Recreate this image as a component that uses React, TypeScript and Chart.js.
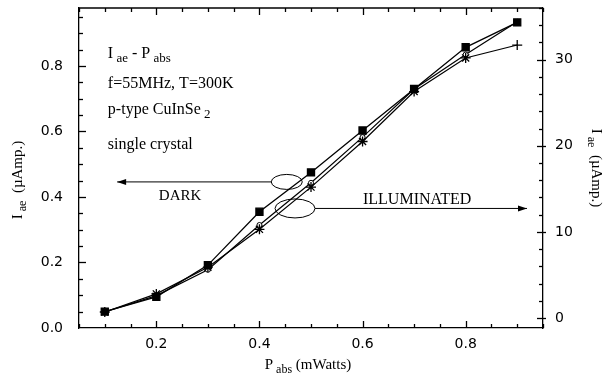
import React, { useEffect, useRef } from "react";
import { Chart, registerables } from "chart.js";

Chart.register(...registerables);

// ---- data ----
const pabs = [0.1, 0.2, 0.3, 0.4, 0.5, 0.6, 0.7, 0.8, 0.9];
const darkIae = [0.05, 0.095, 0.192, 0.355, 0.475, 0.603, 0.73, 0.857, 0.933]; // left axis (µAmp.)
const illumIae = [0.7, 2.8, 5.9, 10.3, 15.2, 20.5, 26.3, 30.2, 31.7]; // right axis (µAmp.)
const illumIae2 = [0.7, 2.6, 5.6, 10.8, 15.7, 21.0, 26.6, 30.6, 34.4]; // right axis (µAmp.)

const xTicks = [0.2, 0.4, 0.6, 0.8];
const leftTicks = [0.0, 0.2, 0.4, 0.6, 0.8];
const rightTicks = [0, 10, 20, 30];

const X_MIN = 0.05, X_MAX = 0.95;
const L_MIN = 0, L_MAX = 0.977;
const R_MIN = -1.16, R_MAX = 36.0;

const SERIF = "'Liberation Serif', 'DejaVu Serif', serif";
const SANS = "'DejaVu Sans', 'Liberation Sans', sans-serif";

function range(a: number, b: number, step: number) {
  const out: number[] = [];
  const n = Math.round((b - a) / step);
  for (let i = 0; i <= n; i++) out.push(Math.round((a + i * step) * 1000) / 1000);
  return out;
}

// draw text with subscript segments: parts = [[text, isSub], ...]
function subText(ctx: CanvasRenderingContext2D, parts: [string, boolean][], x: number, y: number, size: number, align: "left" | "center") {
  const sub = Math.round(size * 0.8);
  let total = 0;
  for (const [t, s] of parts) {
    ctx.font = `${s ? sub : size}px ${SERIF}`;
    total += ctx.measureText(t).width;
  }
  let cx = align === "center" ? x - total / 2 : x;
  ctx.textAlign = "left";
  ctx.textBaseline = "alphabetic";
  for (const [t, s] of parts) {
    ctx.font = `${s ? sub : size}px ${SERIF}`;
    ctx.fillText(t, cx, s ? y + size * 0.25 : y);
    cx += ctx.measureText(t).width;
  }
}

function seg(ctx: CanvasRenderingContext2D, x1: number, y1: number, x2: number, y2: number) {
  ctx.beginPath();
  ctx.moveTo(x1, y1);
  ctx.lineTo(x2, y2);
  ctx.stroke();
}

const zeroPad = (s: any) => {
  s.paddingTop = 0;
  s.paddingBottom = 0;
  s.paddingLeft = 0;
  s.paddingRight = 0;
};

const framePlugin = {
  id: "frame",
  afterDraw(chart: any) {
    const ctx: CanvasRenderingContext2D = chart.ctx;
    const ca = chart.chartArea;
    const xs = chart.scales.x, yl = chart.scales.y, yr = chart.scales.y1;
    ctx.save();
    ctx.strokeStyle = "#000000";
    ctx.fillStyle = "#000000";
    ctx.lineWidth = 1.3;
    ctx.setLineDash([]);
    // top border
    seg(ctx, ca.left, ca.top, ca.right, ca.top);
    // inward ticks
    for (const v of range(0.05, 0.95, 0.05)) {
      const px = Math.round(xs.getPixelForValue(v)) + 0.5;
      const len = xTicks.some((t) => Math.abs(t - v) < 1e-6) ? 7 : 4;
      seg(ctx, px, ca.bottom, px, ca.bottom - len);
      seg(ctx, px, ca.top, px, ca.top + len);
    }
    for (const v of range(0.05, 0.95, 0.05)) {
      const py = Math.round(yl.getPixelForValue(v)) + 0.5;
      const len = leftTicks.some((t) => Math.abs(t - v) < 1e-6) ? 7 : 4;
      seg(ctx, ca.left, py, ca.left + len, py);
    }
    for (const v of range(0, 36, 2)) {
      const py = Math.round(yr.getPixelForValue(v)) + 0.5;
      const major = rightTicks.includes(v);
      seg(ctx, ca.right + (major ? 3 : 0), py, ca.right - (major ? 6 : 4), py);
    }

    // text block
    const tx = xs.getPixelForValue(0.106);
    subText(ctx, [["I", false], [" ae", true], [" - P", false], [" abs", true]], tx, 58, 16, "left");
    subText(ctx, [["f=55MHz, T=300K", false]], tx, 88, 16, "left");
    subText(ctx, [["p-type CuInSe", false], [" 2", true]], tx, 114, 16, "left");
    subText(ctx, [["single crystal", false]], tx, 149, 16, "left");

    // DARK annotation
    ctx.lineWidth = 1;
    const dy = yl.getPixelForValue(0.446);
    const dex = xs.getPixelForValue(0.453);
    const dax = xs.getPixelForValue(0.124);
    ctx.beginPath();
    ctx.ellipse(dex, dy, 15.5, 7.5, 0, 0, Math.PI * 2);
    ctx.moveTo(dex - 15.5, dy);
    ctx.lineTo(dax, dy);
    ctx.stroke();
    ctx.beginPath();
    ctx.moveTo(dax, dy);
    ctx.lineTo(dax + 9, dy - 3);
    ctx.lineTo(dax + 9, dy + 3);
    ctx.closePath();
    ctx.fill();
    subText(ctx, [["DARK", false]], xs.getPixelForValue(0.246), 200, 15, "center");

    // ILLUMINATED annotation
    const iy = yl.getPixelForValue(0.365);
    const iex = xs.getPixelForValue(0.469);
    const iax = xs.getPixelForValue(0.919);
    ctx.beginPath();
    ctx.ellipse(iex, iy, 20, 9.5, 0, 0, Math.PI * 2);
    ctx.moveTo(iex + 20, iy);
    ctx.lineTo(iax, iy);
    ctx.stroke();
    ctx.beginPath();
    ctx.moveTo(iax, iy);
    ctx.lineTo(iax - 9, iy - 3);
    ctx.lineTo(iax - 9, iy + 3);
    ctx.closePath();
    ctx.fill();
    subText(ctx, [["ILLUMINATED", false]], xs.getPixelForValue(0.706), 204, 16, "center");

    // axis titles
    subText(ctx, [["P", false], [" abs", true], [" (mWatts)", false]], 308, 369, 15, "center");

    ctx.save();
    ctx.translate(22, 180);
    ctx.rotate(-Math.PI / 2);
    subText(ctx, [["I", false], [" ae", true], ["  (µAmp.)", false]], 0, 0, 15, "center");
    ctx.restore();

    ctx.save();
    ctx.translate(592, 168);
    ctx.rotate(Math.PI / 2);
    subText(ctx, [["I", false], [" ae", true], ["  (µAmp.)", false]], 0, 0, 15, "center");
    ctx.restore();

    ctx.restore();
  },
};

export default function App() {
  const ref = useRef<HTMLCanvasElement>(null);
  useEffect(() => {
    if (!ref.current) return;
    const pts = (ys: number[]) => pabs.map((x, i) => ({ x, y: ys[i] }));
    const border = { display: true, color: "#000", width: 1.3 };
    const chart = new Chart(ref.current, {
      type: "line",
      data: {
        datasets: [
          {
            label: "Dark",
            data: pts(darkIae),
            yAxisID: "y",
            borderColor: "#000",
            borderWidth: 1.3,
            pointStyle: "rect",
            pointRadius: 5,
            pointBackgroundColor: "#000",
            pointBorderColor: "#000",
          },
          {
            label: "Illuminated",
            data: pts(illumIae),
            yAxisID: "y1",
            borderColor: "#000",
            borderWidth: 1.2,
            pointStyle: pabs.map((_, i) => (i === pabs.length - 1 ? "cross" : "star")) as any,
            pointRadius: 5,
            pointBorderWidth: 1.3,
            pointBackgroundColor: "#fff",
            pointBorderColor: "#000",
          },
          {
            label: "Illuminated 2",
            data: pts(illumIae2),
            yAxisID: "y1",
            borderColor: "#000",
            borderWidth: 1.2,
            pointStyle: "circle",
            pointRadius: 2.5,
            pointBorderWidth: 1,
            pointBackgroundColor: "#fff",
            pointBorderColor: "#000",
          },
        ],
      },
      options: {
        animation: false,
        responsive: false,
        devicePixelRatio: 1,
        layout: { padding: { top: 8, left: 0, right: 0, bottom: 0 } },
        plugins: { legend: { display: false }, tooltip: { enabled: false } },
        scales: {
          x: {
            type: "linear",
            position: "bottom",
            min: X_MIN,
            max: X_MAX,
            grid: { display: false, drawTicks: false },
            border,
            afterBuildTicks: (s: any) => { s.ticks = xTicks.map((value) => ({ value })); },
            afterFit: (s: any) => { s.height = 57; zeroPad(s); },
            ticks: {
              color: "#000",
              padding: 8,
              maxRotation: 0,
              font: { family: SANS, size: 14 },
              callback: (v: any) => Number(v).toFixed(1),
            },
          },
          y: {
            type: "linear",
            position: "left",
            min: L_MIN,
            max: L_MAX,
            grid: { display: false, drawTicks: false },
            border,
            afterBuildTicks: (s: any) => { s.ticks = leftTicks.map((value) => ({ value })); },
            afterFit: (s: any) => { s.width = 79; zeroPad(s); },
            ticks: {
              color: "#000",
              padding: 16,
              font: { family: SANS, size: 14 },
              callback: (v: any) => Number(v).toFixed(1),
            },
          },
          y1: {
            type: "linear",
            position: "right",
            min: R_MIN,
            max: R_MAX,
            grid: { display: false, drawTicks: false },
            border,
            afterBuildTicks: (s: any) => { s.ticks = rightTicks.map((value) => ({ value })); },
            afterFit: (s: any) => { s.width = 63; zeroPad(s); },
            ticks: {
              color: "#000",
              padding: 12,
              font: { family: SANS, size: 14 },
              callback: (v: any) => String(v),
            },
          },
        },
      },
      plugins: [framePlugin],
    });
    return () => chart.destroy();
  }, []);
  return (
    <div style={{ position: "fixed", left: 0, top: 0, width: 606, height: 385, background: "#fff" }}>
      <canvas ref={ref} width={606} height={385} />
    </div>
  );
}
